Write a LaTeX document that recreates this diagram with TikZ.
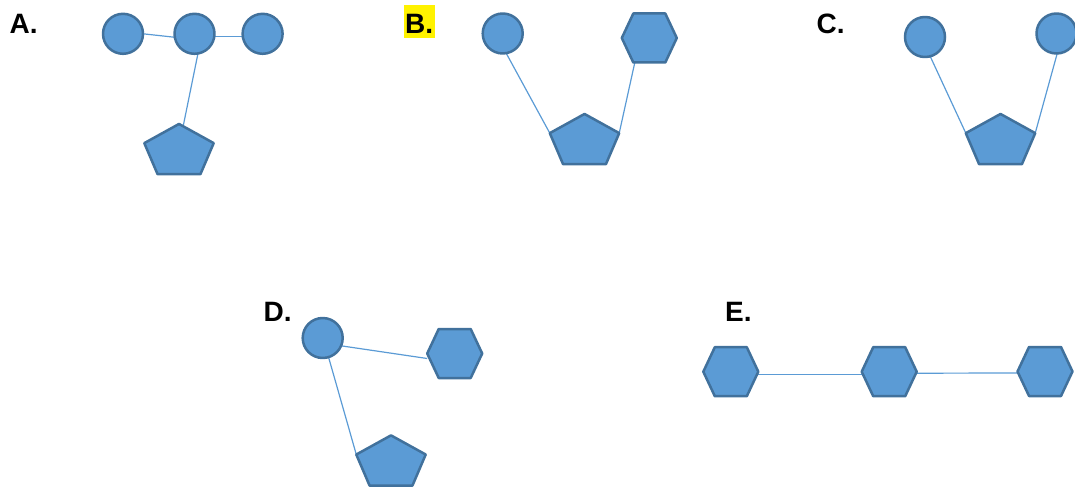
\documentclass[tikz,border=0pt]{standalone}
\usepackage{fontspec}
\setmainfont{Liberation Sans}
\usetikzlibrary{shapes.geometric,calc}
\pgfdeclarelayer{background}
\pgfsetlayers{background,main}
\definecolor{shapefill}{HTML}{5B9BD5}
\definecolor{shapeborder}{HTML}{41719C}
\definecolor{linkcol}{HTML}{5B9BD5}
\tikzset{
  lab/.style={font=\bfseries\fontsize{28}{28}\selectfont, anchor=base west, inner sep=0pt},
  shapeline/.style={draw=shapeborder, fill=shapefill, line width=2.5pt, line join=round},
  circ/.style={shapeline, circle, minimum size=40pt, inner sep=0pt, outer sep=0pt},
  pent/.style={shapeline, regular polygon, regular polygon sides=5, minimum size=73pt, inner sep=0pt, outer sep=0pt, yscale=0.76, transform shape},
  hexbox/.style={rectangle, minimum width=55pt, minimum height=49pt, inner sep=0pt, outer sep=0pt},
  link/.style={draw=linkcol, line width=1.2pt}
}
\newcommand\hexdraw[1]{\draw[shapeline] ([xshift=11.5pt]#1.north west) -- ([xshift=-11.5pt]#1.north east) -- (#1.east) -- ([xshift=-11.5pt]#1.south east) -- ([xshift=11.5pt]#1.south west) -- (#1.west) -- cycle;}
\begin{document}
\begin{tikzpicture}[x=1pt,y=-1pt]
\useasboundingbox (0,0) rectangle (1075,489);
% labels
\node[lab] (la) at (9.5,33.5) {A.};
\node[lab, fill=yellow, inner xsep=1.5pt, text height=28.5pt, text depth=4.5pt] (lb) at (403.5,33.5) {B.};
\node[lab] (lc) at (816.5,33.5) {C.};
\node[lab] (ld) at (263.5,321.5) {D.};
\node[lab] (le) at (725,321.5) {E.};
% A
\node[circ] (a1) at (123,33.8) {};
\node[circ] (a2) at (194.5,33.8) {};
\node[circ] (a3) at (262.6,33.8) {};
\begin{scope}[shift={(179,151.7)}]
\node[pent] (pa) at (0,0) {};
\end{scope}
% B
\node[circ] (b1) at (502.7,33.5) {};
\node[hexbox] (hb) at (649.3,38) {};
\hexdraw{hb}
\begin{scope}[shift={(584.5,141.7)}]
\node[pent] (pb) at (0,0) {};
\end{scope}
% C
\node[circ] (c1) at (925,37) {};
\node[circ] (c2) at (1056.5,33.5) {};
\begin{scope}[shift={(1000.5,141.7)}]
\node[pent] (pc) at (0,0) {};
\end{scope}
% D
\node[circ] (d1) at (322.7,338) {};
\node[hexbox] (hd) at (454.7,353.5) {};
\hexdraw{hd}
\begin{scope}[shift={(391,463.1)}]
\node[pent] (pd) at (0,0) {};
\end{scope}
% E
\node[hexbox] (e1) at (730.8,371.7) {};
\hexdraw{e1}
\node[hexbox] (e2) at (889.2,371.7) {};
\hexdraw{e2}
\node[hexbox] (e3) at (1045,371.5) {};
\hexdraw{e3}
% connectors
\begin{pgfonlayer}{background}
\draw[link] (a1.east) -- (a2.190);
\draw[link] (a2.-8) -- (a3.188);
\draw[link] (a2.-80) -- ($(pa.corner 1)!0.12!(pa.corner 5)$);
\draw[link] (b1.-80) -- (pb.corner 2);
\draw[link] ([xshift=13pt]hb.south west) -- (pb.corner 5);
\draw[link] (c1.-75) -- (pc.corner 2);
\draw[link] (c2.-88) -- (pc.corner 5);
\draw[link] (d1.-23) -- ([yshift=-5pt]hd.west);
\draw[link] (d1.-73) -- (pd.corner 2);
\draw[link] ([yshift=-2.5pt]e1.east) -- ([yshift=-2.5pt]e2.west);
\draw[link] ([yshift=-1.5pt]e2.east) -- ([yshift=-1.5pt]e3.west);
\end{pgfonlayer}
\end{tikzpicture}
\end{document}
